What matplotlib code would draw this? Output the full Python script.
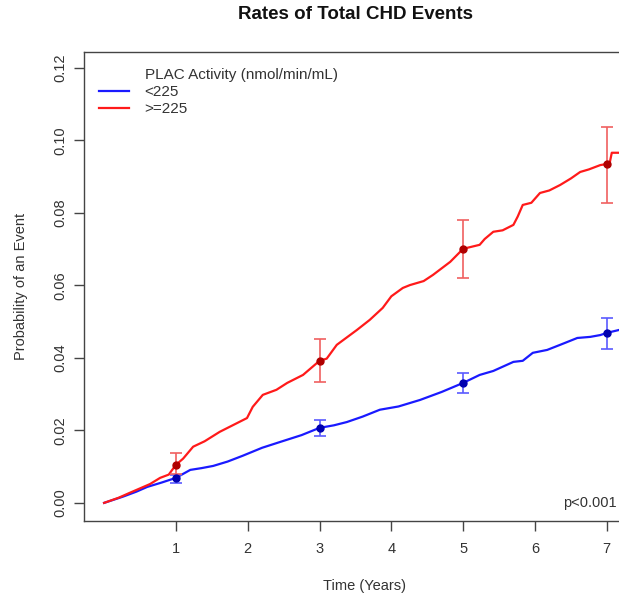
import matplotlib
matplotlib.use("Agg")
import matplotlib.pyplot as plt
from matplotlib.lines import Line2D

plt.rcParams['font.family'] = ['Liberation Sans', 'DejaVu Sans']

# Cumulative incidence curves (time in years, probability of an event)
low_t = [0.0, 0.26, 0.45, 0.60, 0.80, 1.00, 1.20, 1.36, 1.52, 1.72, 1.93, 2.20, 2.45,
         2.75, 3.00, 3.20, 3.38, 3.60, 3.84, 4.10, 4.40, 4.70, 5.00, 5.23, 5.42,
         5.70, 5.83, 5.97, 6.17, 6.35, 6.59, 6.77, 6.91, 7.00, 7.17]
low_p = [0.0, 0.0017, 0.0031, 0.0044, 0.0056, 0.0069, 0.0091, 0.0096, 0.0102, 0.0114,
         0.0130, 0.0152, 0.0168, 0.0187, 0.0207, 0.0214, 0.0223, 0.0238, 0.0257,
         0.0266, 0.0284, 0.0306, 0.0331, 0.0353, 0.0364, 0.0389, 0.0392, 0.0414,
         0.0422, 0.0436, 0.0455, 0.0458, 0.0463, 0.0469, 0.0477]

high_t = [0.0, 0.20, 0.36, 0.50, 0.64, 0.78, 0.90, 1.00, 1.10, 1.24, 1.40, 1.61, 1.80,
          1.99, 2.07, 2.21, 2.40, 2.55, 2.77, 3.00, 3.10, 3.24, 3.52, 3.70, 3.88,
          4.00, 4.16, 4.26, 4.45, 4.58, 4.82, 5.00, 5.23, 5.30, 5.42, 5.55, 5.70,
          5.76, 5.83, 5.95, 6.07, 6.20, 6.35, 6.50, 6.63, 6.75, 6.91, 7.00, 7.04,
          7.07, 7.20]
high_p = [0.0, 0.0014, 0.0028, 0.0040, 0.0052, 0.0069, 0.0078, 0.0105, 0.0122, 0.0155,
          0.0170, 0.0196, 0.0215, 0.0234, 0.0265, 0.0298, 0.0312, 0.0331, 0.0353,
          0.0392, 0.0398, 0.0436, 0.0477, 0.0505, 0.0538, 0.0570, 0.0593, 0.0601,
          0.0612, 0.0629, 0.0665, 0.0701, 0.0712, 0.0728, 0.0748, 0.0752, 0.0767,
          0.0790, 0.0822, 0.0828, 0.0855, 0.0862, 0.0877, 0.0895, 0.0913, 0.0920,
          0.0932, 0.0935, 0.0937, 0.0966, 0.0966]

# Point estimates with confidence limits at selected years
est_years = [1, 3, 5, 7]
low_est = [0.0069, 0.0207, 0.0331, 0.0469]
low_lo = [0.0055, 0.0185, 0.0303, 0.0425]
low_hi = [0.0077, 0.0229, 0.0359, 0.0510]
high_est = [0.0105, 0.0392, 0.0701, 0.0935]
high_lo = [0.0080, 0.0334, 0.0621, 0.0828]
high_hi = [0.0138, 0.0452, 0.0781, 0.1037]

x_ticks = [1, 2, 3, 4, 5, 6, 7]
y_ticks = [0.00, 0.02, 0.04, 0.06, 0.08, 0.10, 0.12]
y_ticklabels = ["0.00", "0.02", "0.04", "0.06", "0.08", "0.10", "0.12"]

legend_title = "PLAC Activity (nmol/min/mL)"
group_labels = ["<225", ">=225"]

fig = plt.figure(figsize=(6.19, 5.97), dpi=100)
ax = fig.add_axes([0.1357, 0.1273, 0.906, 0.7856])

blue = "#1a1aff"
red = "#ff1a1a"

ax.plot(low_t, low_p, color=blue, lw=1.6, zorder=3)
ax.plot(high_t, high_p, color=red, lw=1.6, zorder=3)

for est, lo, hi, col, dark in [(low_est, low_lo, low_hi, "#5a5aff", "#0000b0"),
                               (high_est, high_lo, high_hi, "#f06060", "#b00000")]:
    yerr = [[e - l for e, l in zip(est, lo)], [h - e for e, h in zip(est, hi)]]
    ax.errorbar(est_years, est, yerr=yerr, fmt='none', ecolor=col, elinewidth=1.2,
                capsize=4, capthick=1.2, zorder=4)
    ax.plot(est_years, est, 'o', color=dark, markersize=5, zorder=5)

ax.set_xlim(-0.28, 7.53)
ax.set_ylim(-0.0050, 0.1244)
ax.set_xticks(x_ticks)
ax.set_xticklabels([str(v) for v in x_ticks])
ax.set_yticks(y_ticks)
ax.set_yticklabels(y_ticklabels, rotation=90, va='center')

for s in ax.spines.values():
    s.set_color("#444444")
    s.set_linewidth(1.0)
ax.tick_params(axis='both', direction='out', length=7, width=1.0, color="#444444",
               labelsize=10.5, labelcolor="#333333", pad=8)
ax.tick_params(axis='y', pad=5)

ax.set_xlabel("Time (Years)", fontsize=10.5, color="#333333", labelpad=17)
ax.set_ylabel("Probability of an Event", fontsize=10.5, color="#333333", labelpad=18)
fig.text(0.575, 0.975, "Rates of Total CHD Events", ha='center', va='center',
         fontsize=13.5, fontweight='bold', color="#111111")

ax.text(6.39, 0.0, "p<0.001", ha='left', va='center', fontsize=10.5, color="#333333")

handles = [Line2D([], [], color='none'),
           Line2D([], [], color=blue, lw=1.6),
           Line2D([], [], color=red, lw=1.6)]
leg = ax.legend(handles, [legend_title] + group_labels, loc='upper left',
                bbox_to_anchor=(0.01, 0.985), frameon=False, fontsize=11,
                handlelength=2.0, handletextpad=1.0, labelspacing=0.2,
                borderaxespad=0.2)
for t in leg.get_texts():
    t.set_color("#333333")

fig.savefig("out.png", dpi=100)
